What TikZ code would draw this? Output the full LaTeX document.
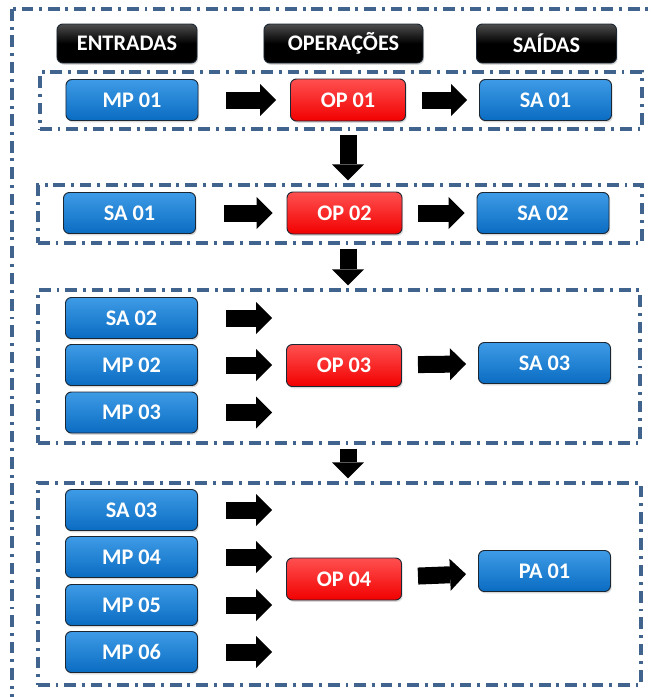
\documentclass[tikz,border=0pt]{standalone}
\usepackage{fontspec}
\setmainfont{Carlito}
\usetikzlibrary{arrows.meta,positioning,shadows}
\definecolor{frameln}{HTML}{41648F}
\definecolor{boxblue}{HTML}{0A6CC2}
\definecolor{boxbluetop}{HTML}{3E9BE6}
\definecolor{boxred}{HTML}{F20000}
\definecolor{boxredtop}{HTML}{FF5050}
\definecolor{boxedge}{HTML}{1B2633}
\tikzset{
  every node/.style={font=\bfseries\fontsize{19}{21}\selectfont},
  box/.style={draw=boxedge,rounded corners=5pt,text=white,align=center,line width=0.8pt,
              drop shadow={opacity=0.3,shadow xshift=1pt,shadow yshift=-1.5pt}},
  head/.style={box,top color=black!70,bottom color=black,middle color=black,
               minimum width=4.2cm,minimum height=1.17cm},
  inbox/.style={box,top color=boxbluetop,bottom color=boxblue,
                minimum width=3.96cm,minimum height=1.23cm},
  opbox/.style={box,top color=boxredtop,bottom color=boxred,
                minimum width=3.45cm,minimum height=1.26cm},
  grp/.style={draw=frameln,line width=2.7pt,dash pattern=on 10pt off 5pt on 2.5pt off 5pt,
              inner sep=0pt},
  blk/.style={draw=black,line width=0.51cm,
              -{Triangle[length=0.48cm,width=0.96cm,line width=0pt]}},
  feed/.style={blk,shorten <=0.84cm,shorten >=0.42cm},
  pass/.style={blk,shorten <=0.48cm,shorten >=0.36cm},
  down/.style={blk,shorten <=0.12cm,shorten >=0.09cm},
}
\begin{document}
\begin{tikzpicture}[x=0.03cm,y=-0.03cm]
\useasboundingbox (0,0) rectangle (652,697);
\clip (0,0) rectangle (652,697);
\draw[grp] (12,9) rectangle (664,712);

% column heads
\node[head] (hin) at (127,43.5) {ENTRADAS};
\node[head,minimum width=4.77cm] (hop) at (343.5,43.5) {OPERAÇÕES};
\node[head] (hout) at (546.5,43.5) {SAÍDAS};

% groups
\node[grp,minimum width=18.06cm,minimum height=1.71cm] (g1) at (341,100.5) {};
\node[grp,minimum width=18.12cm,minimum height=1.74cm] (g2) at (340,214) {};
\node[grp,minimum width=18.06cm,minimum height=4.59cm] (g3) at (339,366.5) {};
\node[grp,minimum width=18.09cm,minimum height=6.06cm] (g4) at (339.5,584) {};

% step 1
\node[inbox] (mp01) at (132,100) {MP 01};
\node[opbox] (op01) at (348,100) {OP 01};
\node[inbox] (sa01) at (545.5,100) {SA 01};
\draw[feed] (mp01.east) -- (mp01.east -| op01.west);
\draw[pass] (op01) -- (sa01);

% step 2
\node[inbox] (sa01in) at (129.5,213) {SA 01};
\node[opbox] (op02) at (344.5,213) {OP 02};
\node[inbox] (sa02) at (543,213) {SA 02};
\draw[feed] (sa01in.east) -- (sa01in.east -| op02.west);
\draw[pass] (op02) -- (sa02);

% step 3
\node[inbox] (sa02in) at (131.5,318) {SA 02};
\node[inbox] (mp02) at (131.5,365) {MP 02};
\node[inbox] (mp03) at (131.5,412.5) {MP 03};
\node[opbox] (op03) at (344,365.5) {OP 03};
\node[inbox] (sa03) at (544.5,363) {SA 03};
\foreach \n in {sa02in,mp02,mp03}
  \draw[feed] (\n.east) -- (\n.east -| op03.west);
\draw[pass] (op03) -- (sa03);

% step 4
\node[inbox] (sa03in) at (131.5,510) {SA 03};
\node[inbox] (mp04) at (131.5,557) {MP 04};
\node[inbox] (mp05) at (131.5,605) {MP 05};
\node[inbox] (mp06) at (131.5,652) {MP 06};
\node[opbox] (op04) at (344,579) {OP 04};
\node[inbox] (pa01) at (544.5,571) {PA 01};
\foreach \n in {sa03in,mp04,mp05,mp06}
  \draw[feed] (\n.east) -- (\n.east -| op04.west);
\draw[pass] (op04) -- (pa01);

% between groups
\draw[down] (op01 |- g1.south) -- (op01 |- g2.north);
\draw[down] (op01 |- g2.south) -- (op01 |- g3.north);
\draw[down] (op01 |- g3.south) -- (op01 |- g4.north);
\end{tikzpicture}
\end{document}
